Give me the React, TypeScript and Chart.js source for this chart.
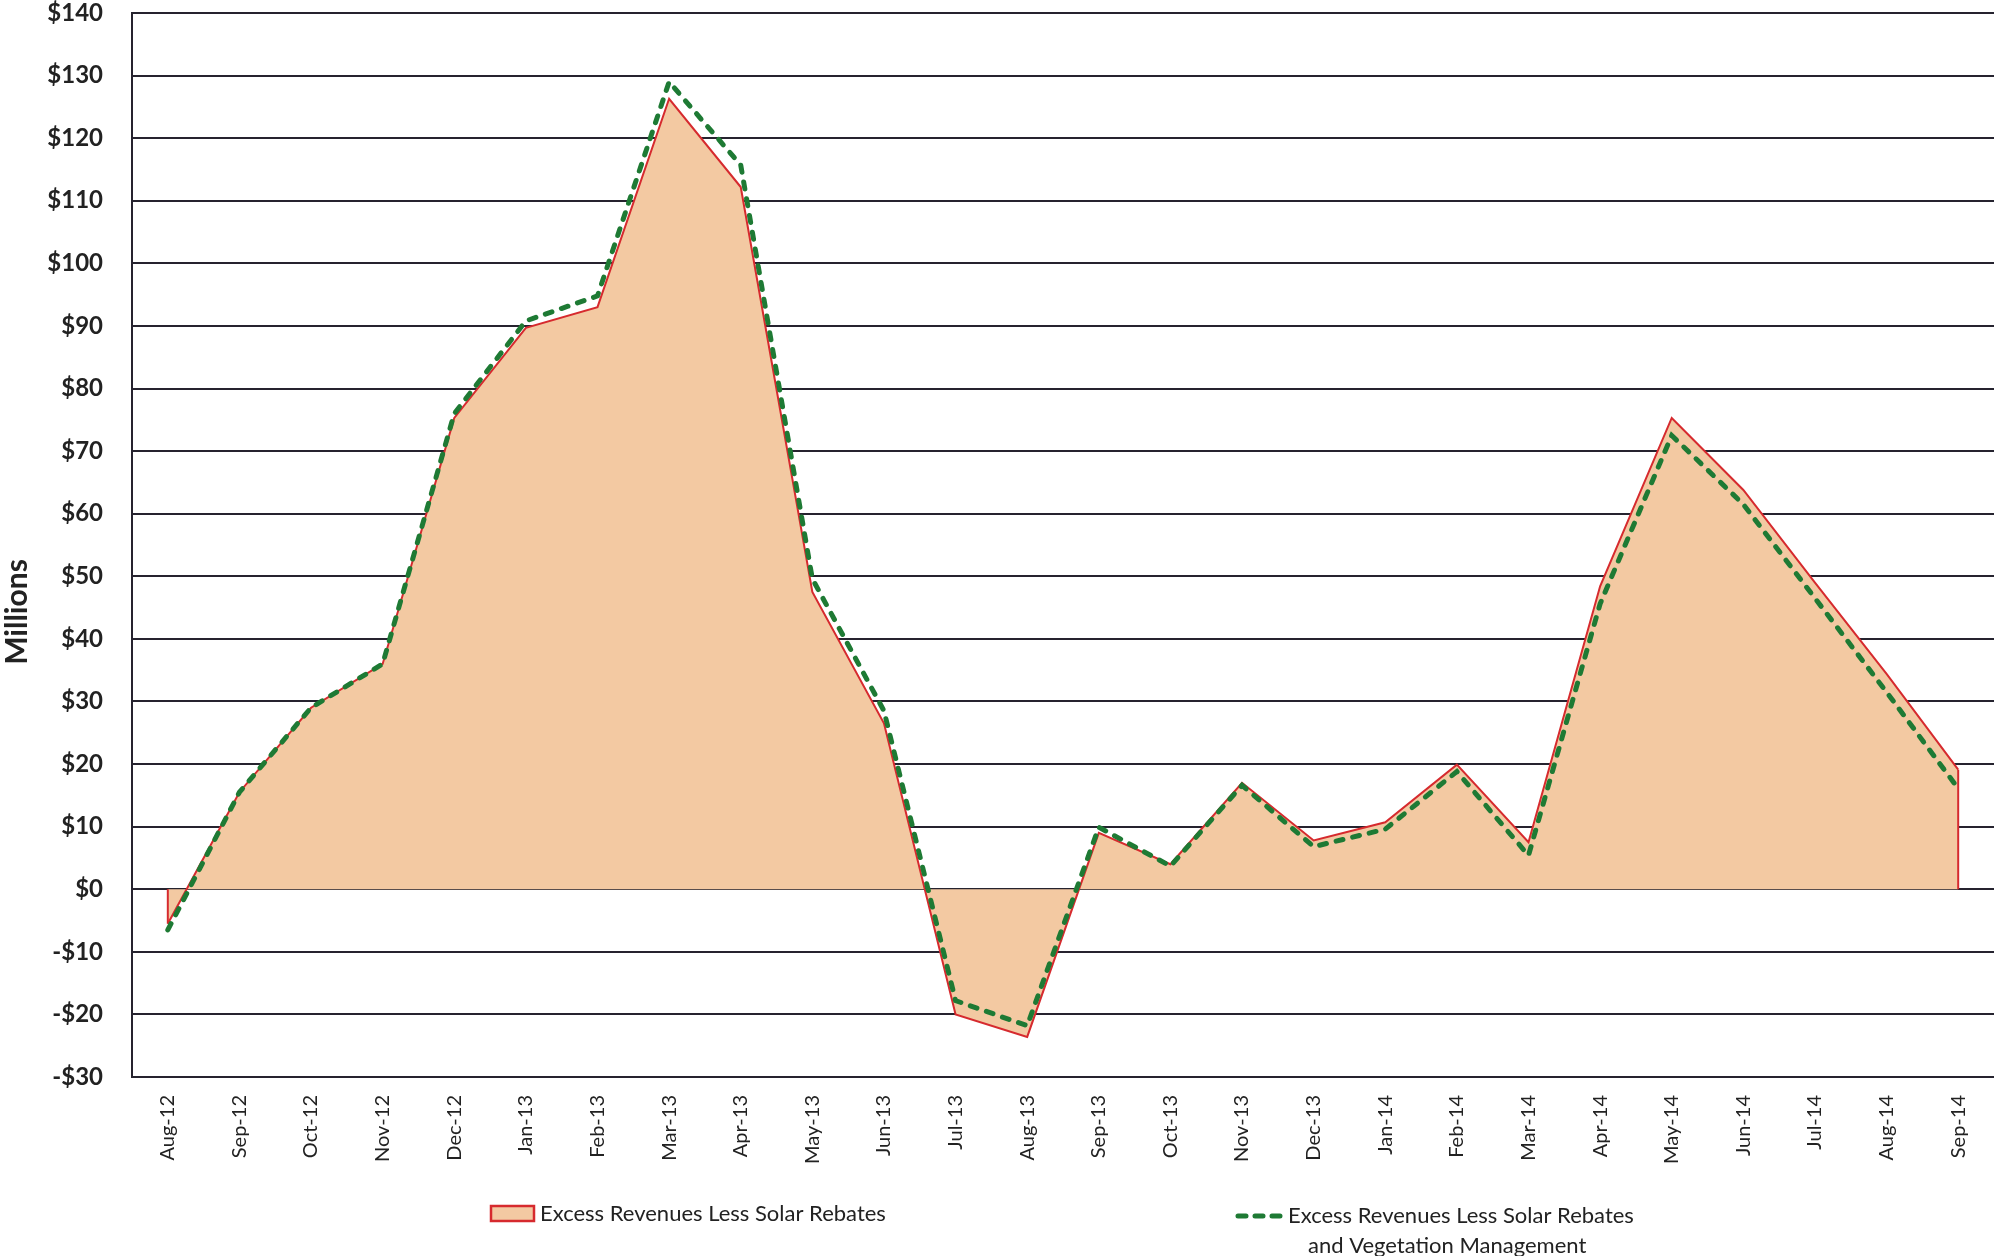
import React, { useEffect, useRef } from "react";
import { Chart, registerables } from "chart.js";

Chart.register(...registerables);

const categories = [
  "Aug-12", "Sep-12", "Oct-12", "Nov-12", "Dec-12", "Jan-13", "Feb-13", "Mar-13", "Apr-13",
  "May-13", "Jun-13", "Jul-13", "Aug-13", "Sep-13", "Oct-13", "Nov-13", "Dec-13", "Jan-14",
  "Feb-14", "Mar-14", "Apr-14", "May-14", "Jun-14", "Jul-14", "Aug-14", "Sep-14",
];

const lessSolar = [
  -5.5, 15.5, 29, 36, 75.3, 89.7, 93, 126.3, 112.2,
  47.5, 26.5, -20, -23.6, 9, 4, 17, 7.8, 10.7,
  19.9, 7.5, 48.4, 75.3, 63.8, 49, 34.4, 19.1,
];

const lessSolarVeg = [
  -6.5, 15.5, 29, 36, 76, 90.8, 94.8, 129, 115.7,
  49.6, 28.5, -17.8, -21.8, 9.9, 3.7, 16.6, 6.8, 9.6,
  18.8, 5.4, 45.6, 72.5, 61.5, 46.5, 31.5, 16.1,
];

const seriesNames = [
  "Excess Revenues Less Solar Rebates",
  ["Excess Revenues Less Solar Rebates", "and Vegetation Management"],
];

const yMin = -30;
const yMax = 140;
const yStep = 10;

const FILL = "#F3C9A2";
const RED = "#D62A2E";
const GREEN = "#1E7A34";
const GRID = "#26232f";
const TEXT = "#222222";
const FONT = "Lato, 'Open Sans', sans-serif";

export default function App() {
  const ref = useRef<HTMLCanvasElement | null>(null);

  useEffect(() => {
    const canvas = ref.current;
    if (!canvas) return;

    const endLines = {
      id: "endLines",
      afterDatasetDraw(chart: any, args: any) {
        if (args.index !== 0) return;
        const meta = chart.getDatasetMeta(0);
        const pts = meta.data;
        if (!pts.length) return;
        const y0 = chart.scales.y.getPixelForValue(0);
        const ctx = chart.ctx;
        ctx.save();
        ctx.strokeStyle = RED;
        ctx.lineWidth = 2;
        [pts[0], pts[pts.length - 1]].forEach((p: any) => {
          ctx.beginPath();
          ctx.moveTo(p.x, y0);
          ctx.lineTo(p.x, p.y);
          ctx.stroke();
        });
        ctx.restore();
      },
    };

    const extras = {
      id: "extras",
      afterDraw(chart: any) {
        const ctx = chart.ctx;
        ctx.save();
        // y axis title
        ctx.fillStyle = TEXT;
        ctx.font = `bold 30px ${FONT}`;
        ctx.textAlign = "center";
        ctx.textBaseline = "middle";
        ctx.translate(17, 612);
        ctx.rotate(-Math.PI / 2);
        ctx.fillText("Millions", 0, 0);
        ctx.restore();

        // legend
        ctx.save();
        ctx.font = `22px ${FONT}`;
        ctx.fillStyle = TEXT;
        ctx.textAlign = "left";
        ctx.textBaseline = "middle";
        // item 1
        ctx.fillStyle = FILL;
        ctx.fillRect(491, 1206, 43, 15);
        ctx.strokeStyle = RED;
        ctx.lineWidth = 2.5;
        ctx.strokeRect(491, 1206, 43, 15);
        ctx.fillStyle = TEXT;
        ctx.fillText(seriesNames[0] as string, 540, 1214);
        // item 2
        ctx.strokeStyle = GREEN;
        ctx.lineWidth = 5;
        ctx.lineCap = "round";
        ctx.setLineDash([8, 9]);
        ctx.beginPath();
        ctx.moveTo(1238, 1216);
        ctx.lineTo(1282, 1216);
        ctx.stroke();
        ctx.setLineDash([]);
        const lines = seriesNames[1] as string[];
        ctx.fillText(lines[0], 1288, 1216);
        ctx.fillText(lines[1], 1308, 1246);
        ctx.restore();
      },
    };

    const chart = new Chart(canvas, {
      type: "line",
      data: {
        labels: categories,
        datasets: [
          {
            label: seriesNames[0] as string,
            data: lessSolar,
            borderColor: RED,
            borderWidth: 2,
            backgroundColor: FILL,
            fill: "origin",
            pointRadius: 0,
            tension: 0,
            order: 2,
          },
          {
            label: (seriesNames[1] as string[]).join(" "),
            data: lessSolarVeg,
            borderColor: GREEN,
            borderWidth: 5,
            borderDash: [7, 10],
            borderCapStyle: "round",
            fill: false,
            pointRadius: 0,
            tension: 0,
            order: 1,
          },
        ],
      },
      options: {
        animation: false,
        responsive: false,
        devicePixelRatio: 1,
        layout: { padding: { top: 13, left: 0, right: 0, bottom: 0 } },
        plugins: {
          legend: { display: false },
          tooltip: { enabled: false },
          title: { display: false },
        },
        scales: {
          x: {
            type: "category",
            offset: true,
            grid: { display: false, drawTicks: false },
            border: { display: false },
            ticks: {
              autoSkip: false,
              maxRotation: 90,
              minRotation: 90,
              padding: 18,
              color: TEXT,
              font: { family: FONT, size: 20 },
            },
            afterFit(scale: any) {
              scale.height = 179;
              scale.paddingLeft = 0;
              scale.paddingRight = 0;
            },
          },
          y: {
            min: yMin,
            max: yMax,
            grid: { color: GRID, lineWidth: 2, drawTicks: false },
            border: { display: true, color: GRID, width: 2 },
            ticks: {
              stepSize: yStep,
              padding: 29,
              color: TEXT,
              font: { family: FONT, size: 24, weight: "bold" },
              callback: (v: any) => (Number(v) < 0 ? `-$${Math.abs(Number(v))}` : `$${v}`),
            },
            afterFit(scale: any) {
              scale.width = 132;
              scale.paddingTop = 0;
              scale.paddingBottom = 0;
            },
          },
        },
      },
      plugins: [endLines, extras],
    });

    return () => chart.destroy();
  }, []);

  return (
    <canvas
      ref={ref}
      width={1994}
      height={1256}
      style={{ position: "absolute", left: 0, top: 0, width: 1994, height: 1256 }}
    />
  );
}
